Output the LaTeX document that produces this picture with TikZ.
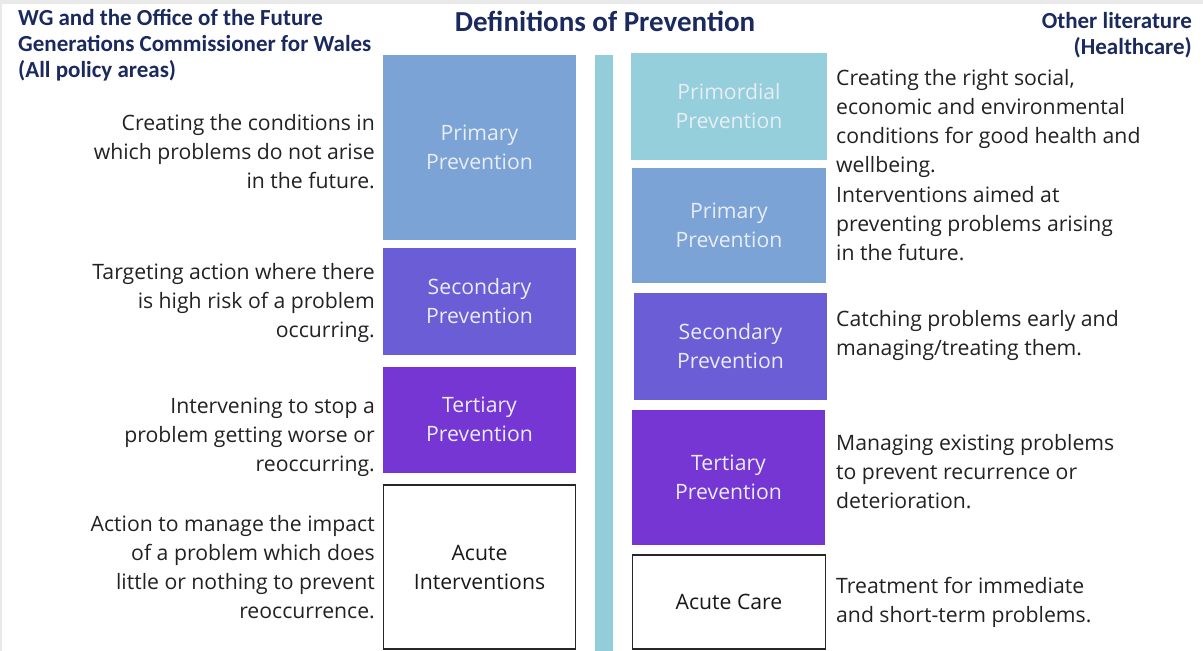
\documentclass[tikz,border=0pt]{standalone}
\usepackage{fontspec}
\setmainfont{Open Sans}
\newfontfamily\hdrfont{Carlito}
\definecolor{navy}{HTML}{1B2A5E}
\definecolor{bodytext}{HTML}{222222}
\definecolor{boxtext}{HTML}{E8EDF6}
\definecolor{primcol}{HTML}{7CA3D5}
\definecolor{seccol}{HTML}{6B5DD6}
\definecolor{tercol}{HTML}{7536D3}
\definecolor{primordcol}{HTML}{94CFDB}
\definecolor{barcol}{HTML}{93CDD9}
\definecolor{framegray}{HTML}{E9E9E9}
\tikzset{
  pbox/.style={fill=#1, draw=none, inner sep=0pt, text=boxtext, align=center,
    font=\fontsize{21.2}{29}\selectfont},
  abox/.style={fill=white, draw=black!85, line width=1.8pt, inner sep=0pt, text=black!90, align=center,
    font=\fontsize{21.2}{29}\selectfont},
  ldesc/.style={anchor=east, inner sep=0pt, align=right, text=bodytext, font=\fontsize{21.2}{29}\selectfont},
  rdesc/.style={anchor=west, inner sep=0pt, align=left, text=bodytext, font=\fontsize{21.2}{29}\selectfont},
  hdr/.style={inner sep=0pt, text=navy, font=\hdrfont\bfseries\fontsize{23}{26}\selectfont},
}
\begin{document}
\begin{tikzpicture}[x=1pt,y=-1pt]
\useasboundingbox (0,0) rectangle (1203,651);
\fill[white] (0,0) rectangle (1203,651);
\fill[framegray] (0,0) rectangle (1203,4);
\fill[framegray] (0,0) rectangle (2,651);
% headers
\node[hdr, anchor=base west] (hl1) at (18,25) {WG and the Office of the Future};
\node[hdr, anchor=base west] (hl2) at (18,51) {Generations Commissioner for Wales};
\node[hdr, anchor=base west] (hl3) at (18,77) {(All policy areas)};
\node[hdr, anchor=base east] (hr1) at (1192,28) {Other literature};
\node[hdr, anchor=base east] (hr2) at (1192,54) {(Healthcare)};
\node[inner sep=0pt, anchor=base, text=navy, font=\hdrfont\bfseries\fontsize{29}{32}\selectfont] (title) at (605,31) {Definitions of Prevention};
% central bar
\fill[barcol] (595,55) rectangle (613,651);
\coordinate (bar) at (604,353);
% left boxes
\node[pbox=primcol, minimum width=193pt, minimum height=185pt] (lprim) at (479.5,147.5) {Primary\\Prevention};
\node[pbox=seccol, minimum width=193pt, minimum height=107pt] (lsec) at (479.5,301.5) {Secondary\\Prevention};
\node[pbox=tercol, minimum width=193pt, minimum height=106pt] (lter) at (479.5,419.5) {Tertiary\\Prevention};
\node[abox, minimum width=192pt, minimum height=164pt] (lacu) at (479.5,567) {Acute\\Interventions};
% right boxes
\node[pbox=primordcol, minimum width=196pt, minimum height=107pt] (rpord) at (729,106.5) {Primordial\\Prevention};
\node[pbox=primcol, minimum width=194pt, minimum height=115pt] (rprim) at (729,225.5) {Primary\\Prevention};
\node[pbox=seccol, minimum width=193pt, minimum height=107pt] (rsec) at (730.5,346.5) {Secondary\\Prevention};
\node[pbox=tercol, minimum width=193pt, minimum height=135pt] (rter) at (728.5,477.5) {Tertiary\\Prevention};
\node[abox, minimum width=193pt, minimum height=94pt] (racu) at (729,602) {Acute Care};
% left descriptions
\node[ldesc] (d1) at (375,152) {Creating the conditions in\\which problems do not arise\\in the future.};
\node[ldesc] (d2) at (375,303) {Targeting action where there\\is high risk of a problem\\occurring.};
\node[ldesc] (d3) at (375,437) {Intervening to stop a\\problem getting worse or\\reoccurring.};
\node[ldesc] (d4) at (375,567.5) {Action to manage the impact\\of a problem which does\\little or nothing to prevent\\reoccurrence.};
% right descriptions
\node[rdesc] (e1) at (836,123) {Creating the right social,\\economic and environmental\\conditions for good health and\\wellbeing.};
\node[rdesc] (e2) at (836,224) {Interventions aimed at\\preventing problems arising\\in the future.};
\node[rdesc] (e3) at (836,335.5) {Catching problems early and\\managing/treating them.};
\node[rdesc] (e4) at (836,472) {Managing existing problems\\to prevent recurrence or\\deterioration.};
\node[rdesc] (e5) at (836,602.5) {Treatment for immediate\\and short-term problems.};
\end{tikzpicture}
\end{document}
